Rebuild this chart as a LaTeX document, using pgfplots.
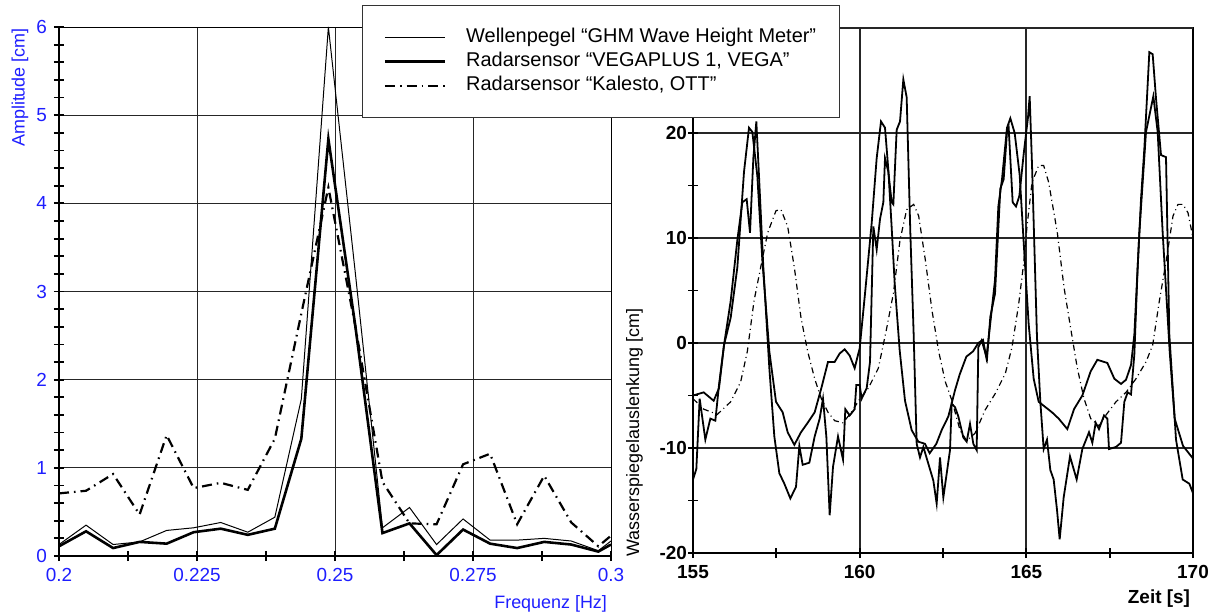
\documentclass[border=0pt]{standalone}
\usepackage{fontspec}
\setmainfont{Liberation Sans}
\usepackage{pgfplots}
\usepackage{pgfplotstable}
\pgfplotsset{compat=1.18}
\definecolor{lblue}{RGB}{30,30,255}

% amplitude spectrum, df = 1/204.8 Hz
\pgfplotstableread{
f      thin  thick kal
0.2000 0.13  0.11  0.71
0.2049 0.35  0.28  0.74
0.2098 0.13  0.09  0.93
0.2146 0.16  0.16  0.47
0.2195 0.29  0.14  1.37
0.2244 0.32  0.27  0.77
0.2293 0.38  0.31  0.83
0.2342 0.27  0.24  0.75
0.2391 0.44  0.31  1.33
0.2439 1.78  1.33  2.75
0.2488 6.00  4.73  4.18
0.2537 3.20  2.60  2.60
0.2586 0.32  0.26  0.84
0.2635 0.55  0.37  0.37
0.2684 0.13  0.01  0.36
0.2732 0.42  0.30  1.04
0.2781 0.18  0.14  1.16
0.2830 0.18  0.09  0.36
0.2879 0.20  0.16  0.91
0.2928 0.17  0.13  0.38
0.2977 0.06  0.05  0.11
0.3000 0.17  0.13  0.23
}\spectrum

% water level time series
\pgfplotstableread{
t y
155.00 -5.0
155.32 -4.7
155.62 -5.5
155.78 -4.3
155.93 -0.2
156.13 2.4
156.33 7.2
156.53 16.3
156.68 20.5
156.78 20.1
156.93 15.9
157.08 7.9
157.29 -0.8
157.49 -5.6
157.69 -6.6
157.84 -8.5
158.04 -9.7
158.24 -8.5
158.44 -7.6
158.65 -6.6
158.85 -4.3
159.05 -1.8
159.25 -1.8
159.40 -1.0
159.55 -0.6
159.70 -1.2
159.85 -2.4
160.00 -0.5
160.16 4.7
160.36 11.4
160.51 17.6
160.64 21.1
160.76 20.5
160.86 16.5
160.96 11.0
161.05 5.7
161.20 -0.7
161.36 -5.5
161.56 -8.3
161.76 -9.4
161.96 -9.6
162.10 -10.5
162.30 -9.6
162.46 -8.3
162.66 -7.0
162.86 -4.5
163.00 -3.0
163.20 -1.3
163.40 -0.8
163.56 0.0
163.70 0.3
163.80 -1.4
163.86 0.2
163.96 3.1
164.06 6.0
164.16 13.0
164.27 15.6
164.42 20.5
164.52 21.4
164.65 20.0
164.80 16.0
164.95 8.0
165.07 1.8
165.22 -3.4
165.37 -5.6
165.57 -6.1
165.77 -6.6
165.97 -7.2
166.23 -8.2
166.43 -6.3
166.68 -5.0
166.93 -2.7
167.13 -1.6
167.43 -1.9
167.64 -3.4
167.84 -3.9
167.99 -3.5
168.14 -2.1
168.24 0.8
168.39 10.5
168.59 20.1
168.81 23.5
168.94 20.1
169.09 10.5
169.30 -0.8
169.45 -7.2
169.70 -9.8
170.00 -11.0
}\wellen

\pgfplotstableread{
t y
155.00 -13.0
155.10 -12.0
155.20 -5.3
155.37 -9.2
155.52 -7.2
155.67 -7.4
155.78 -4.0
155.93 -0.2
156.13 4.0
156.33 9.8
156.48 13.4
156.61 13.7
156.71 10.5
156.81 17.6
156.90 21.1
156.98 15.9
157.11 7.2
157.29 -2.4
157.44 -8.9
157.59 -12.4
157.74 -13.4
157.92 -14.8
158.09 -13.7
158.19 -9.8
158.29 -11.6
158.49 -11.4
158.65 -8.9
158.80 -7.2
158.90 -5.3
159.00 -8.9
159.10 -16.4
159.20 -11.8
159.35 -8.9
159.50 -11.1
159.57 -6.3
159.70 -6.9
159.85 -6.3
159.90 -4.0
160.00 -4.0
160.06 -5.3
160.21 -4.3
160.31 -1.8
160.41 11.1
160.51 8.9
160.61 11.8
160.71 13.4
160.76 17.6
160.86 16.3
160.96 13.4
161.01 13.2
161.11 20.3
161.21 21.1
161.31 25.1
161.41 23.4
161.52 10.5
161.62 0.8
161.71 -9.6
161.81 -10.9
161.91 -9.9
162.06 -11.5
162.21 -13.1
162.31 -15.3
162.41 -10.9
162.51 -14.7
162.71 -10.2
162.76 -5.8
162.86 -6.1
162.96 -7.0
163.11 -9.0
163.21 -9.4
163.31 -7.7
163.41 -9.6
163.51 -10.2
163.56 -0.4
163.66 0.25
163.82 -1.5
163.92 2.5
164.06 4.7
164.22 14.7
164.32 15.6
164.42 20.1
164.47 20.5
164.59 13.4
164.69 13.0
164.79 14.0
164.92 18.0
165.05 21.5
165.10 23.5
165.17 17.0
165.32 0.5
165.42 -5.6
165.52 -10.1
165.62 -9.2
165.72 -12.1
165.82 -13.0
165.92 -15.9
166.00 -18.7
166.12 -14.7
166.31 -10.8
166.51 -13.0
166.68 -10.1
166.88 -8.5
166.98 -9.5
167.08 -7.6
167.18 -8.2
167.33 -6.9
167.43 -7.2
167.48 -10.1
167.69 -9.9
167.84 -9.5
167.94 -5.6
168.04 -4.7
168.14 -4.9
168.24 -1.1
168.34 7.2
168.44 13.7
168.54 18.5
168.69 27.7
168.79 27.5
168.89 23.3
169.04 17.9
169.19 17.7
169.29 0.8
169.49 -9.2
169.69 -13.0
169.89 -13.4
170.00 -14.3
}\vega

\pgfplotstableread{
t y
155.00 -5.3
155.32 -6.3
155.73 -6.8
156.13 -5.6
156.43 -3.7
156.63 -0.8
156.83 4.0
157.03 7.2
157.24 10.5
157.49 12.6
157.64 12.7
157.84 11.1
158.04 7.2
158.24 2.4
158.44 -0.8
158.65 -3.4
158.85 -5.3
159.05 -6.6
159.25 -7.4
159.50 -7.6
159.75 -6.6
160.01 -5.3
160.26 -4.3
160.56 -2.4
160.81 1.4
161.01 4.7
161.21 9.8
161.41 12.7
161.62 13.2
161.77 12.1
161.97 7.9
162.17 3.1
162.37 -0.8
162.57 -3.7
162.77 -5.5
163.01 -8.3
163.21 -9.3
163.46 -8.6
163.76 -6.4
164.07 -4.8
164.37 -2.9
164.57 -0.4
164.77 3.7
164.92 7.6
165.02 11.1
165.17 15.3
165.37 16.9
165.52 16.9
165.67 15.3
165.93 10.5
166.13 5.3
166.33 1.4
166.53 -2.4
166.73 -5.3
166.93 -7.2
167.18 -7.9
167.38 -6.9
167.69 -5.6
167.99 -4.7
168.29 -3.4
168.59 -1.8
168.79 -0.2
168.99 4.0
169.20 7.9
169.40 12.1
169.55 13.2
169.70 13.2
169.85 12.4
170.00 10.0
}\kalesto

\begin{document}
\begin{tikzpicture}
\useasboundingbox (0,0) rectangle (608bp,306bp);

% right: time series (drawn first so the legend lies on top)
\begin{axis}[
  at={(346.5bp,29.5bp)}, anchor=south west, scale only axis,
  width=250bp, height=262.5bp,
  xmin=155, xmax=170, ymin=-20, ymax=30,
  xtick={155,160,165,170}, ytick={-20,-10,...,20},
  extra y ticks={30}, extra y tick labels={},
  minor x tick num=1, minor y tick num=1,
  xtick pos=left, ytick pos=left, tick align=center,
  major tick length=5bp, minor tick length=5bp,
  every tick/.style={black, line width=0.9pt},
  grid=major, major grid style={black!85, line width=0.9pt},
  axis line style={line width=0.9pt},
  /pgf/number format/assume math mode=true,
  tick label style={font=\bfseries\fontsize{9.5}{11}\selectfont},
  yticklabel style={xshift=3bp},
  xlabel={Zeit [s]},
  xlabel style={at={(rel axis cs:1,0)}, anchor=north east, yshift=-15bp, xshift=2bp,
    font=\bfseries\fontsize{9.5}{11}\selectfont},
  ylabel={Wasserspiegelauslenkung [cm]},
  ylabel style={at={(rel axis cs:-0.086,-0.02)}, anchor=south west,
    font=\fontsize{9}{10}\selectfont},
]
\addplot[black, line width=0.9pt] table[x=t, y=y] {\wellen};
\addplot[black, line width=0.9pt] table[x=t, y=y] {\vega};
\addplot[black, line width=0.6pt, dash pattern=on 3bp off 1.8bp on 0.5bp off 1.8bp] table[x=t, y=y] {\kalesto};
\end{axis}

% left: spectrum
\begin{axis}[
  at={(29.5bp,28bp)}, anchor=south west, scale only axis,
  width=276bp, height=264.5bp, clip=false,
  xmin=0.2, xmax=0.3, ymin=0, ymax=6,
  xtick={0.2,0.225,0.25,0.275,0.3},
  xticklabels={0.2,0.225,0.25,0.275,0.3},
  ytick={0,...,6},
  minor x tick num=1, minor y tick num=4,
  xtick pos=left, ytick pos=left, tick align=center,
  major tick length=5bp, minor tick length=5bp,
  every tick/.style={black, line width=0.9pt},
  grid=major, major grid style={black!85, line width=0.5pt},
  axis line style={line width=0.5pt},
  /pgf/number format/assume math mode=true,
  tick label style={text=lblue, font=\fontsize{9.5}{11}\selectfont},
  xlabel={Frequenz [Hz]},
  xlabel style={at={(rel axis cs:1,0)}, anchor=north east, yshift=-16bp, xshift=1.5bp,
    text=lblue, font=\fontsize{9}{10}\selectfont},
  ylabel={Amplitude [cm]},
  ylabel style={at={(rel axis cs:-0.043,1.011)}, anchor=south east,
    text=lblue, font=\fontsize{9}{10}\selectfont},
  legend image code/.code={\draw[#1] (0bp,0bp) -- (30bp,0bp);},
  legend style={at={(0.549,1.0416)}, anchor=north west, draw=black!80,
    line width=0.6pt, fill=white, font=\fontsize{10}{12}\selectfont,
    inner xsep=10.5bp, inner ysep=10bp, row sep=0bp,
    nodes={inner sep=1bp, text height=7.5bp, text depth=2.5bp},
    cells={anchor=west},
    /tikz/every odd column/.append style={column sep=9bp}},
]
\addplot[black, line width=0.5pt] table[x=f, y=thin] {\spectrum};
\addlegendentry{Wellenpegel “GHM Wave Height Meter”}
\addplot[black, line width=1.3pt] table[x=f, y=thick] {\spectrum};
\addlegendentry{Radarsensor “VEGAPLUS 1, VEGA”}
\addplot[black, line width=1.1pt, dash pattern=on 5bp off 2.5bp on 0.8bp off 2.5bp] table[x=f, y=kal] {\spectrum};
\addlegendentry{Radarsensor “Kalesto, OTT”}
\draw[line width=1.3pt] (rel axis cs:0,1) -- (rel axis cs:0,0) -- (rel axis cs:1,0);
\end{axis}
\end{tikzpicture}
\end{document}
